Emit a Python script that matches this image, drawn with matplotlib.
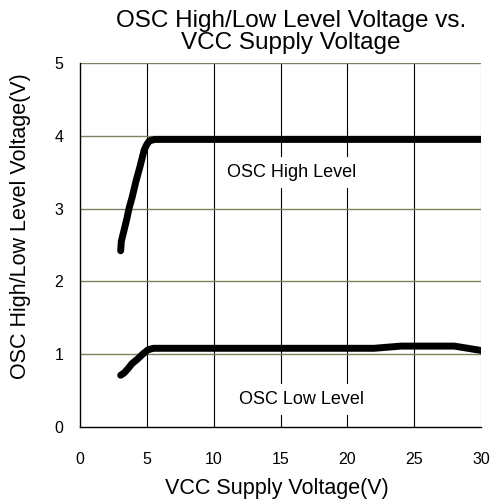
import matplotlib
matplotlib.use("Agg")
import matplotlib.pyplot as plt

plt.rcParams['font.family'] = ['Liberation Sans', 'DejaVu Sans']

# dane
vcc_high = [3.05, 3.1, 3.3, 3.5, 3.7, 3.9, 4.2, 4.5, 4.8, 5.0, 5.2, 5.6, 8, 12, 16, 20, 24, 28, 30]
osc_high = [2.42, 2.55, 2.70, 2.85, 3.02, 3.15, 3.38, 3.58, 3.80, 3.88, 3.93, 3.95, 3.95, 3.95, 3.95, 3.95, 3.95, 3.95, 3.95]
vcc_low = [3.05, 3.3, 3.6, 3.9, 4.3, 4.7, 5.1, 5.5, 10, 15, 20, 22, 24, 26, 28, 30]
osc_low = [0.71, 0.74, 0.80, 0.87, 0.93, 1.00, 1.06, 1.08, 1.08, 1.08, 1.08, 1.08, 1.11, 1.11, 1.11, 1.05]

x_ticks = [0, 5, 10, 15, 20, 25, 30]
y_ticks = [0, 1, 2, 3, 4, 5]

fig = plt.figure(figsize=(4.93, 5.04), dpi=100)
ax = fig.add_axes([0.162, 0.153, 0.814, 0.722])

ax.set_xlim(0, 30)
ax.set_ylim(0, 5)

# siatka: pionowe czarne, poziome oliwkowe
for x in x_ticks[1:]:
    ax.axvline(x, color='black' if x < 30 else '#808080', lw=0.8, zorder=1)
for y in y_ticks[1:]:
    ax.axhline(y, color='#808060', lw=1.0, zorder=1)

ax.plot(vcc_high, osc_high, color='black', lw=5, solid_capstyle='round', zorder=3)
ax.plot(vcc_low, osc_low, color='black', lw=5, solid_capstyle='round', zorder=3)

ax.text(15.8, 3.5, 'OSC High Level', ha='center', va='center', fontsize=13,
        bbox=dict(facecolor='white', edgecolor='none', pad=5), zorder=2)
ax.text(16.6, 0.38, 'OSC Low Level', ha='center', va='center', fontsize=13,
        bbox=dict(facecolor='white', edgecolor='none', pad=5), zorder=2)

ax.set_xticks(x_ticks)
ax.set_yticks(y_ticks)
ax.tick_params(axis='x', length=0, pad=18, labelsize=11.5)
ax.tick_params(axis='y', length=0, pad=12, labelsize=11.5)

for s in ['top', 'right']:
    ax.spines[s].set_visible(False)
ax.spines['left'].set_linewidth(1.0)
ax.spines['bottom'].set_linewidth(1.0)

ax.set_xlabel('VCC Supply Voltage(V)', fontsize=15.5, labelpad=8, x=0.49)
ax.set_ylabel('OSC High/Low Level Voltage(V)', fontsize=15.5, labelpad=17, y=0.551)
ax.set_title('OSC High/Low Level Voltage vs.\nVCC Supply Voltage', fontsize=17.5, pad=10,
             linespacing=1.0, x=0.526)

fig.savefig('out.png', dpi=100)
